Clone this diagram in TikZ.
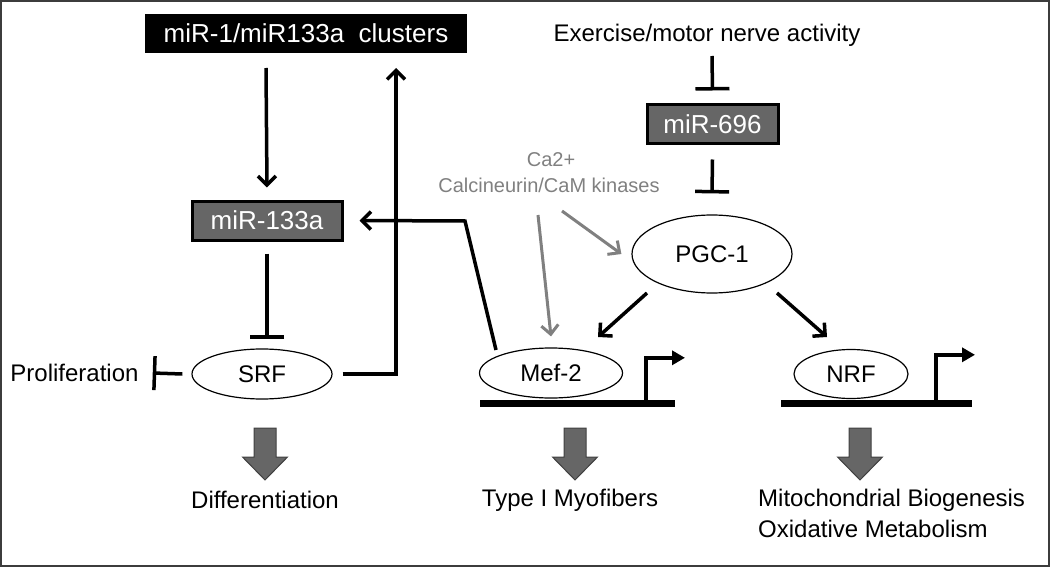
\documentclass[tikz,border=0pt]{standalone}
\usepackage{fontspec}
\setmainfont{Liberation Sans}
\usetikzlibrary{arrows.meta,shapes.geometric}
\definecolor{boxgray}{RGB}{102,102,102}
\definecolor{txtgray}{RGB}{128,128,128}
\definecolor{framegray}{RGB}{60,60,60}
\begin{document}
\begin{tikzpicture}[x=1pt,y=-1pt,
  lbl/.style={font=\fontsize{24}{28}\selectfont, inner sep=0pt},
  glbl/.style={font=\fontsize{20}{24}\selectfont, inner sep=0pt, text=txtgray},
  blackbox/.style={rectangle, fill=black, text=white, inner sep=0pt, font=\fontsize{26}{30}\selectfont},
  graybox/.style={rectangle, fill=boxgray, draw=black, line width=3pt, text=white, inner sep=0pt, font=\fontsize{26}{30}\selectfont},
  ell/.style={ellipse, draw=black, line width=1.2pt, inner sep=0pt, font=\fontsize{24}{28}\selectfont},
  dnabar/.style={rectangle, fill=black, minimum height=7pt, inner sep=0pt},
  arr/.style={line width=3.5pt, -{Straight Barb[length=9pt,width=18pt]}},
  garr/.style={line width=3pt, draw=txtgray, -{Straight Barb[length=9pt,width=17pt]}},
  inh/.style={line width=3.5pt, -{Bar[width=34pt]}},
  prom/.style={line width=4pt, -{Triangle[length=13pt,width=14pt]}},
  blockarr/.pic={\draw[fill=boxgray, draw=black!75, line width=1pt]
     (-11,0) -- (11,0) -- (11,29) -- (22.5,29) -- (0,52) -- (-22.5,29) -- (-11,29) -- cycle;}
]
\useasboundingbox (0,0) rectangle (1050,567);
\draw[framegray, line width=2pt] (1,1) rectangle (1049,566);

% nodes
\node[blackbox, minimum width=322pt, minimum height=39pt] (clusters) at (306,33.5) {miR-1/miR133a\ \ clusters};
\node[graybox, minimum width=150pt, minimum height=39pt] (mir133) at (267,220.5) {miR-133a};
\node[ell, minimum width=140pt, minimum height=50pt] (srf) at (262,374) {SRF};
\node[lbl] (prolif) at (74.5,373) {Proliferation};
\node[lbl] (exercise) at (707,35) {Exercise/motor nerve activity};
\node[graybox, minimum width=131pt, minimum height=39pt] (mir696) at (712.5,124.5) {miR-696};
\node[glbl] (ca) at (551,160) {Ca2+};
\node[glbl] (calc) at (549,185) {Calcineurin/CaM kinases};
\node[ell, minimum width=160pt, minimum height=78pt] (pgc) at (712,254) {PGC-1};
\node[ell, minimum width=143pt, minimum height=50pt] (mef2) at (551,373) {Mef-2};
\node[ell, minimum width=114pt, minimum height=49pt] (nrf) at (851,374) {NRF};
\node[dnabar, minimum width=195pt] (mefbar) at (577.5,403.5) {};
\node[dnabar, minimum width=191pt] (nrfbar) at (876.5,403.5) {};
\node[lbl] (diff) at (265,500) {Differentiation};
\node[lbl] (type1) at (570,500) {Type I Myofibers};
\node[lbl, anchor=west] (mito) at (758,500) {Mitochondrial Biogenesis};
\node[lbl, anchor=west] (oxid) at (758,529) {Oxidative Metabolism};

% coordinates for free ends
\coordinate (a1) at (266,68);
\coordinate (c1) at (396,68);
\coordinate (m2s) at (496,350);
\coordinate (m2b) at (465,221);
\coordinate (e1) at (712,56);
\coordinate (g1s) at (562,211);
\coordinate (g2s) at (538,215);
\coordinate (p1s) at (647,293);
\coordinate (p1e) at (598,337);
\coordinate (p2s) at (777,293);
\coordinate (p2e) at (827,337);

% connectors
\draw[arr] (a1) -- ([yshift=12pt]mir133.north);
\draw[inh] ([yshift=-12pt]mir133.south) -- ++(0,85);
\draw[inh] ([xshift=-9pt]srf.west) -- ([xshift=14pt]prolif.east);
\draw[arr] ([xshift=10pt]srf.east) -| (c1);
\draw[arr] (m2s) -- (m2b) -- ([xshift=16pt]mir133.east);
\draw[inh] (e1) -- ([yshift=13pt]mir696.north);
\draw[inh] ([yshift=-14pt]mir696.south) -- ([yshift=21pt]pgc.north);
\draw[garr] (g1s) -- ([xshift=-10pt]pgc.west);
\draw[garr] (g2s) -- ([yshift=11pt]mef2.north);
\draw[arr] (p1s) -- (p1e);
\draw[arr] (p2s) -- (p2e);
\draw[prom] ([xshift=68.5pt]mefbar.north) |- ++(39,-42);
\draw[prom] ([xshift=59.5pt]nrfbar.north) |- ++(39,-45);

% block arrows
\pic at (265,428) {blockarr};
\pic at (575,428) {blockarr};
\pic at (860,428) {blockarr};
\end{tikzpicture}
\end{document}
